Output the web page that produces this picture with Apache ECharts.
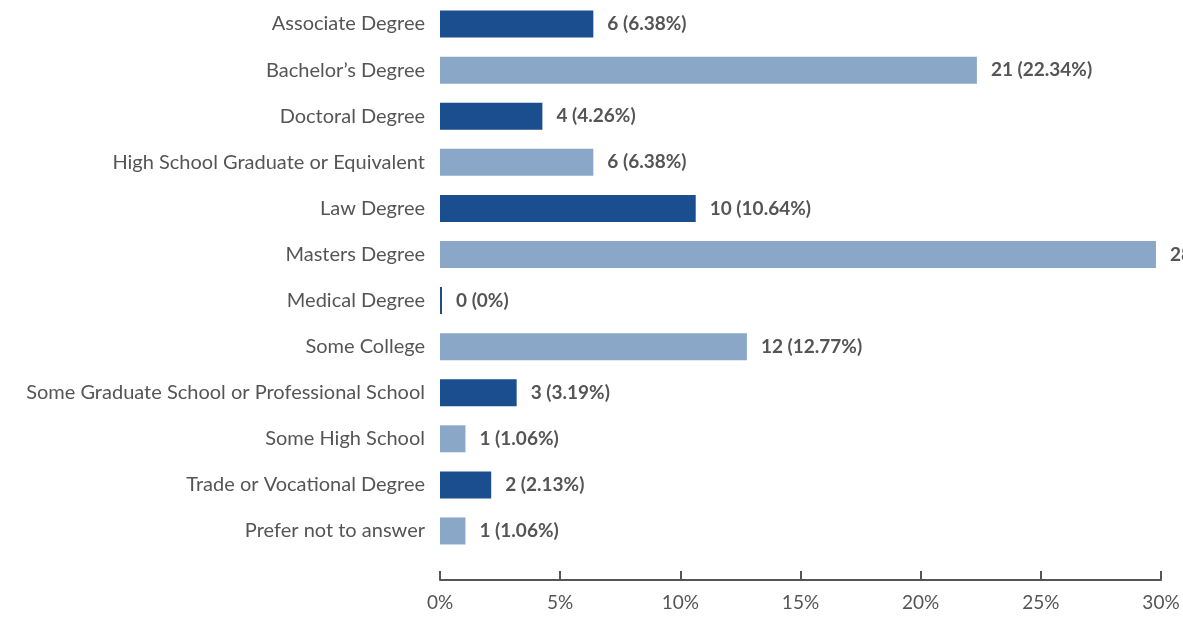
<!DOCTYPE html>
<html>
<head>
<meta charset="utf-8">
<script src="https://cdn.jsdelivr.net/npm/echarts@6/dist/echarts.min.js"></script>
<style>
  html, body { margin: 0; padding: 0; background: #fff; }
  #chart { width: 1183px; height: 618px; }
</style>
</head>
<body>
<div id="chart"></div>
<script>
var categories = [
  'Associate Degree',
  'Bachelor\u2019s Degree',
  'Doctoral Degree',
  'High School Graduate or Equivalent',
  'Law Degree',
  'Masters Degree',
  'Medical Degree',
  'Some College',
  'Some Graduate School or Professional School',
  'Some High School',
  'Trade or Vocational Degree',
  'Prefer not to answer'
];
var counts = [6, 21, 4, 6, 10, 28, 0, 12, 3, 1, 2, 1];
var percents = [6.38, 22.34, 4.26, 6.38, 10.64, 29.79, 0, 12.77, 3.19, 1.06, 2.13, 1.06];
var tickValues = [0, 5, 10, 15, 20, 25, 30];

var darkBlue = '#1a4e8e';
var lightBlue = '#8ba7c8';
var textColor = '#555555';
var fontName = 'Lato, Roboto, sans-serif';

var myChart = echarts.init(document.getElementById('chart'));

var option = {
  animation: false,
  grid: {
    left: 440,
    right: 22,
    top: 1,
    bottom: 64
  },
  xAxis: {
    type: 'value',
    min: tickValues[0],
    max: tickValues[tickValues.length - 1],
    interval: 5,
    offset: 26,
    axisLine: { show: true, lineStyle: { color: textColor, width: 2 } },
    axisTick: { show: true, inside: true, length: 9, lineStyle: { color: textColor, width: 2 } },
    splitLine: { show: false },
    axisLabel: {
      formatter: '{value}%',
      color: textColor,
      fontFamily: fontName,
      fontSize: 19,
      margin: 13
    }
  },
  yAxis: {
    type: 'category',
    inverse: true,
    data: categories,
    axisLine: { show: false },
    axisTick: { show: false },
    axisLabel: {
      color: textColor,
      fontFamily: fontName,
      fontSize: 20,
      margin: 15
    }
  },
  series: [
    {
      type: 'bar',
      data: percents.map(function (p, i) {
        return {
          value: p,
          itemStyle: { color: i % 2 === 0 ? darkBlue : lightBlue }
        };
      }),
      barWidth: 27,
      barMinHeight: 2,
      label: {
        show: true,
        position: 'right',
        distance: 14,
        color: textColor,
        fontFamily: fontName,
        fontWeight: 'bold',
        fontSize: 19,
        formatter: function (params) {
          return counts[params.dataIndex] + ' (' + percents[params.dataIndex] + '%)';
        }
      }
    }
  ]
};

myChart.setOption(option);
</script>
</body>
</html>
